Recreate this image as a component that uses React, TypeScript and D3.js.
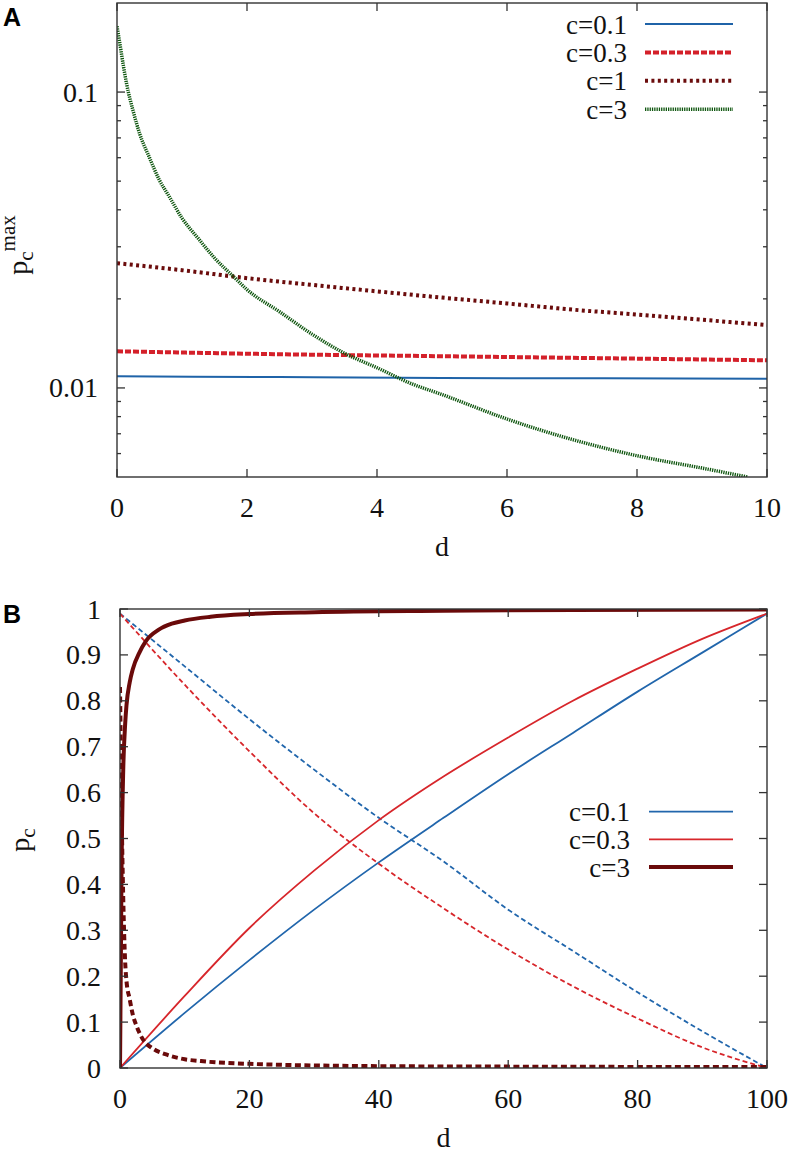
import { useEffect, useRef } from 'react';
import * as d3 from 'd3';

// Panel A: p_c^max vs d, log y axis
const A_C01_D = [0, 2.5, 5, 7.5, 10];
const A_C01 = [0.01095, 0.01088, 0.0108, 0.01078, 0.01075];
const A_C03_D = [0, 2.5, 5, 7.5, 10];
const A_C03 = [0.0133, 0.0130, 0.0128, 0.0126, 0.0124];
const A_C1_D = [0, 1, 2, 3, 4, 5, 6, 7, 8, 9, 10];
const A_C1 = [0.0264, 0.025, 0.0235, 0.0223, 0.0212, 0.0202, 0.0193, 0.0184, 0.0177, 0.017, 0.0163];
const A_C3_D = [0, 0.05, 0.1, 0.15, 0.25, 0.35, 0.5, 0.65, 0.8, 1, 1.25, 1.5, 1.8, 2, 2.5, 3, 3.5, 4, 4.5, 5, 6, 7, 8, 9, 9.7];
const A_C3 = [0.167, 0.143, 0.122, 0.106, 0.086, 0.0722, 0.06, 0.0505, 0.0445, 0.0375, 0.032, 0.0275, 0.0237, 0.0215, 0.0181, 0.0152, 0.0131, 0.0117, 0.0104, 0.0095, 0.00785, 0.0067, 0.0059, 0.00536, 0.005];

// Panel B: p_c vs d (solid = legend curves, dashed = companions)
const B_D = [0, 10, 20, 30, 40, 50, 60, 70, 80, 90, 100];
const B_C01 = [0, 0.12, 0.235, 0.345, 0.448, 0.545, 0.64, 0.73, 0.82, 0.905, 0.99];
const B_C01_DASH = [0.99, 0.875, 0.76, 0.65, 0.545, 0.45, 0.345, 0.255, 0.165, 0.08, 0];
const B_C03 = [0, 0.157, 0.305, 0.43, 0.54, 0.635, 0.72, 0.8, 0.87, 0.935, 0.99];
const B_C03_DASH = [0.99, 0.835, 0.69, 0.555, 0.445, 0.348, 0.258, 0.178, 0.108, 0.045, 0];
const B_C3_D = [0, 0.25, 0.5, 0.8, 1, 1.5, 2, 3, 4, 6, 8, 10, 14, 20, 30, 50, 70, 100];
const B_C3 = [0, 0.45, 0.65, 0.75, 0.79, 0.84, 0.87, 0.905, 0.93, 0.955, 0.968, 0.975, 0.983, 0.989, 0.993, 0.996, 0.998, 0.999];
const B_C3_DASH_D = [0, 0.1, 0.25, 0.5, 0.8, 1, 1.5, 2, 2.6, 3.6, 5, 7, 10, 12.5, 20, 40, 60, 100];
const B_C3_DASH = [0.83, 0.72, 0.56, 0.37, 0.23, 0.19, 0.15, 0.115, 0.09, 0.061, 0.043, 0.03, 0.019, 0.015, 0.009, 0.004, 0.003, 0.002];

const A_X_TICKS = [0, 2, 4, 6, 8, 10];
const A_Y_TICKS = [0.01, 0.1];
const B_X_TICKS = [0, 20, 40, 60, 80, 100];
const B_Y_TICKS = [0, 0.1, 0.2, 0.3, 0.4, 0.5, 0.6, 0.7, 0.8, 0.9, 1];

const LEGEND_A = ['c=0.1', 'c=0.3', 'c=1', 'c=3'];
const LEGEND_B = ['c=0.1', 'c=0.3', 'c=3'];

const SERIF = "'Liberation Serif', 'Times New Roman', serif";
const FS = 28;
const FS_LEG = 27;

export default function App() {
  const svgRef = useRef<SVGSVGElement>(null);

  useEffect(() => {
    if (!svgRef.current) return;
    const svg = d3.select(svgRef.current);
    svg.selectAll('*').remove();

    const zip = (xs: number[], ys: number[]) => xs.map((d, i) => [d, ys[i]] as [number, number]);

    // shared frame: border box, inward ticks on all four sides
    function frame(
      g: any, x: any, y: any, box: any,
      xTicks: number[], yTicks: number[], yMinor: number[], fmtY: (v: number) => string,
    ) {
      const t = g.append('g').attr('stroke', '#333').attr('stroke-width', 1.3);
      xTicks.forEach(v => {
        t.append('line').attr('x1', x(v)).attr('x2', x(v)).attr('y1', box.b).attr('y2', box.b - 8);
        t.append('line').attr('x1', x(v)).attr('x2', x(v)).attr('y1', box.t).attr('y2', box.t + 8);
      });
      yTicks.forEach(v => {
        t.append('line').attr('x1', box.l).attr('x2', box.l + 8).attr('y1', y(v)).attr('y2', y(v));
        t.append('line').attr('x1', box.r).attr('x2', box.r - 8).attr('y1', y(v)).attr('y2', y(v));
      });
      yMinor.forEach(v => {
        t.append('line').attr('x1', box.l).attr('x2', box.l + 4).attr('y1', y(v)).attr('y2', y(v));
        t.append('line').attr('x1', box.r).attr('x2', box.r - 4).attr('y1', y(v)).attr('y2', y(v));
      });
      g.append('rect')
        .attr('x', box.l).attr('y', box.t)
        .attr('width', box.r - box.l).attr('height', box.b - box.t)
        .attr('fill', 'none').attr('stroke', '#333').attr('stroke-width', 1.4);

      g.selectAll(null).data(xTicks).join('text')
        .attr('x', (v: number) => x(v)).attr('y', box.b + 40)
        .attr('text-anchor', 'middle')
        .attr('font-family', SERIF).attr('font-size', FS).attr('fill', '#111')
        .text((v: number) => String(v));
      g.selectAll(null).data(yTicks).join('text')
        .attr('x', box.l - 19).attr('y', (v: number) => y(v) + 9.5)
        .attr('text-anchor', 'end')
        .attr('font-family', SERIF).attr('font-size', FS).attr('fill', '#111')
        .text(fmtY);
      g.append('text')
        .attr('x', (box.l + box.r) / 2).attr('y', box.b + 79)
        .attr('text-anchor', 'middle')
        .attr('font-family', SERIF).attr('font-size', FS).attr('fill', '#111')
        .text('d');
    }

    function drawSeries(g: any, x: any, y: any, clipId: string, series: any[]) {
      const line = d3.line<[number, number]>()
        .x(d => x(d[0])).y(d => y(d[1]))
        .curve(d3.curveMonotoneX);
      const cg = g.append('g').attr('clip-path', `url(#${clipId})`);
      series.forEach(s => {
        cg.append('path')
          .attr('d', line(s.pts))
          .attr('fill', 'none')
          .attr('stroke', s.color)
          .attr('stroke-width', s.width)
          .attr('stroke-dasharray', s.dash || null);
      });
    }

    function legend(g: any, rows: any[], textX: number, x1: number, x2: number, y0: number, step: number) {
      rows.forEach((r, i) => {
        const yy = y0 + i * step;
        g.append('text')
          .attr('x', textX).attr('y', yy + 9.5)
          .attr('text-anchor', 'end')
          .attr('font-family', SERIF).attr('font-size', FS_LEG).attr('fill', '#111')
          .text(r.label);
        g.append('line')
          .attr('x1', x1).attr('x2', x2).attr('y1', yy).attr('y2', yy)
          .attr('stroke', r.color).attr('stroke-width', r.width)
          .attr('stroke-dasharray', r.dash || null);
      });
    }

    const defs = svg.append('defs');

    // ---------- Panel A ----------
    const boxA = { l: 117, r: 767, t: 3, b: 477 };
    const xA = d3.scaleLinear().domain([0, 10]).range([boxA.l, boxA.r]);
    const yA = d3.scaleLog().domain([0.005, 0.2]).range([boxA.b, boxA.t]);
    defs.append('clipPath').attr('id', 'clipA').append('rect')
      .attr('x', boxA.l).attr('y', boxA.t).attr('width', boxA.r - boxA.l).attr('height', boxA.b - boxA.t);
    const gA = svg.append('g');
    const minorA = yA.ticks().filter(v => !A_Y_TICKS.includes(v) && v > 0.005 && v < 0.2);

    const stylesA = [
      { label: LEGEND_A[0], color: '#1f63a8', width: 2, dash: null, pts: zip(A_C01_D, A_C01) },
      { label: LEGEND_A[1], color: '#d4202a', width: 4, dash: '6,2', pts: zip(A_C03_D, A_C03) },
      { label: LEGEND_A[2], color: '#6b0c0c', width: 4, dash: '3,3.4', pts: zip(A_C1_D, A_C1) },
      { label: LEGEND_A[3], color: '#0f560f', width: 3.5, dash: '1.3,1', pts: zip(A_C3_D, A_C3) },
    ];
    drawSeries(gA, xA, yA, 'clipA', stylesA);
    frame(gA, xA, yA, boxA, A_X_TICKS, A_Y_TICKS, minorA, v => String(v));
    legend(gA, stylesA, 627, 645, 733, 24, 28.4);

    // y label p_c^max
    const labA = gA.append('text')
      .attr('transform', 'translate(27,245) rotate(-90)')
      .attr('text-anchor', 'middle')
      .attr('font-family', SERIF).attr('font-size', FS).attr('fill', '#111');
    labA.append('tspan').text('p');
    labA.append('tspan').attr('dy', 6).attr('font-size', 21).text('c');
    labA.append('tspan').attr('dy', -18).attr('font-size', 21).text('max');

    gA.append('text')
      .attr('x', 3).attr('y', 26)
      .attr('font-family', "'Liberation Sans', Arial, sans-serif")
      .attr('font-weight', 'bold').attr('font-size', 25).attr('fill', '#000')
      .text('A');

    // ---------- Panel B ----------
    const boxB = { l: 120, r: 767, t: 609, b: 1068 };
    const xB = d3.scaleLinear().domain([0, 100]).range([boxB.l, boxB.r]);
    const yB = d3.scaleLinear().domain([0, 1]).range([boxB.b, boxB.t]);
    defs.append('clipPath').attr('id', 'clipB').append('rect')
      .attr('x', boxB.l).attr('y', boxB.t).attr('width', boxB.r - boxB.l).attr('height', boxB.b - boxB.t);
    const gB = svg.append('g');

    const blue = '#2166ac', red = '#d7262b', dark = '#6a0a0a';
    const stylesB = [
      { label: LEGEND_B[0], color: blue, width: 1.8, dash: null, pts: zip(B_D, B_C01) },
      { color: blue, width: 1.8, dash: '5,3', pts: zip(B_D, B_C01_DASH) },
      { label: LEGEND_B[1], color: red, width: 1.8, dash: null, pts: zip(B_D, B_C03) },
      { color: red, width: 1.8, dash: '5,3', pts: zip(B_D, B_C03_DASH) },
      { label: LEGEND_B[2], color: dark, width: 4, dash: null, pts: zip(B_C3_D, B_C3) },
      { color: dark, width: 4, dash: '6,3.5', pts: zip(B_C3_DASH_D, B_C3_DASH) },
    ];
    drawSeries(gB, xB, yB, 'clipB', stylesB);
    frame(gB, xB, yB, boxB, B_X_TICKS, B_Y_TICKS, [], v => (v === 0 || v === 1 ? String(v) : v.toFixed(1)));
    legend(gB, stylesB.filter(s => s.label), 630, 649, 733, 811.7, 27.7);

    const labB = gB.append('text')
      .attr('transform', 'translate(29,840) rotate(-90)')
      .attr('text-anchor', 'middle')
      .attr('font-family', SERIF).attr('font-size', FS).attr('fill', '#111');
    labB.append('tspan').text('p');
    labB.append('tspan').attr('dy', 6).attr('font-size', 21).text('c');

    gB.append('text')
      .attr('x', 3).attr('y', 623)
      .attr('font-family', "'Liberation Sans', Arial, sans-serif")
      .attr('font-weight', 'bold').attr('font-size', 25).attr('fill', '#000')
      .text('B');
  }, []);

  return (
    <svg
      ref={svgRef}
      width={793}
      height={1150}
      style={{ position: 'absolute', left: 0, top: 0, background: '#fff' }}
    />
  );
}
